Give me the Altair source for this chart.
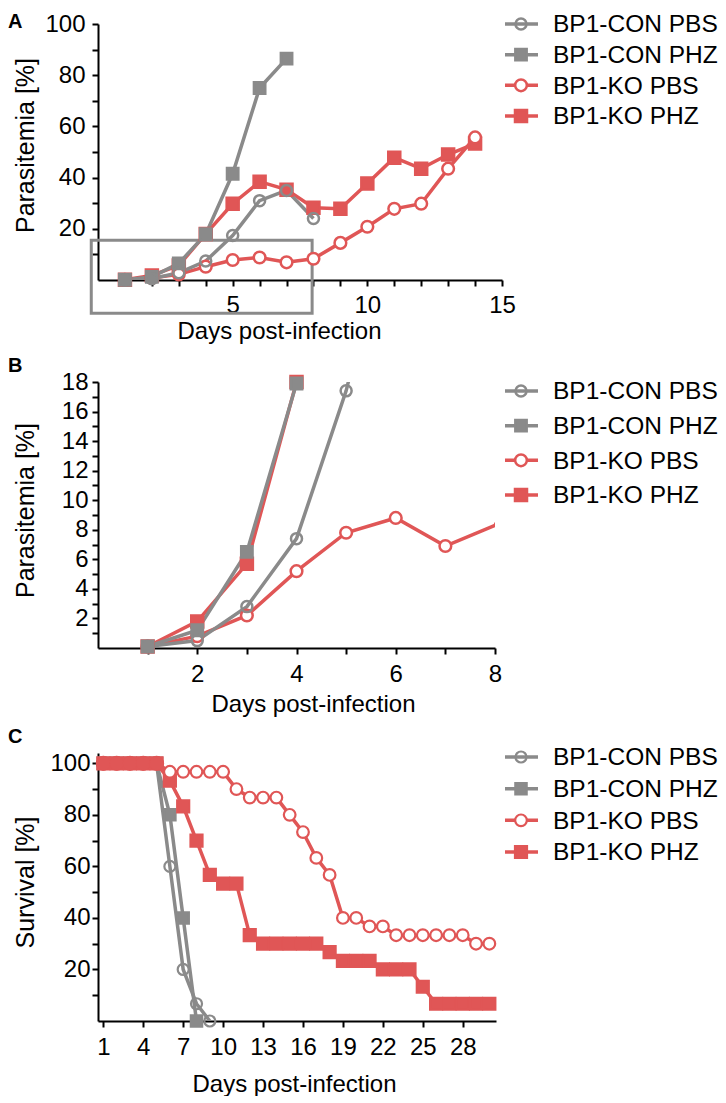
import altair as alt
import pandas as pd

FONT = "Liberation Sans"
GREY = "#8a8a8a"
RED = "#e05656"

series_names = ["BP1-CON PBS", "BP1-CON PHZ", "BP1-KO PBS", "BP1-KO PHZ"]
panel_labels = ["A", "B", "C"]

# Parasitemia (panels A and B)
para_days_con_pbs = [1, 2, 3, 4, 5, 6, 7, 8]
para_con_pbs = [0.1, 0.5, 2.8, 7.4, 17.4, 31.0, 35.0, 24.0]
para_days_con_phz = [1, 2, 3, 4, 5, 6, 7]
para_con_phz = [0.1, 1.2, 6.5, 17.9, 41.5, 75.0, 86.5]
para_days_ko = [1, 2, 3, 4, 5, 6, 7, 8, 9, 10, 11, 12, 13, 14]
para_ko_pbs = [0.1, 0.8, 2.2, 5.2, 7.8, 8.8, 6.9, 8.3, 14.5, 20.8, 27.8, 29.8, 43.5, 55.7]
para_ko_phz = [0.1, 1.8, 5.7, 18.0, 29.8, 38.4, 35.3, 28.2, 27.8, 37.7, 47.8, 43.5, 49.0, 53.3]

# Survival (panel C)
surv_days_con_pbs = [1, 2, 3, 4, 5, 6, 7, 8, 9]
surv_con_pbs = [100, 100, 100, 100, 100, 60, 20, 6.7, 0]
surv_days_con_phz = [1, 2, 3, 4, 5, 6, 7, 8]
surv_con_phz = [100, 100, 100, 100, 100, 80, 40, 0]
surv_days_ko = [1, 2, 3, 4, 5, 6, 7, 8, 9, 10, 11, 12, 13, 14, 15,
                16, 17, 18, 19, 20, 21, 22, 23, 24, 25, 26, 27, 28, 29, 30]
surv_ko_pbs = [100, 100, 100, 100, 100, 96.7, 96.7, 96.7, 96.7, 96.7,
               90, 86.7, 86.7, 86.7, 80, 73.3, 63.3, 56.7, 40, 40,
               36.7, 36.7, 33.3, 33.3, 33.3, 33.3, 33.3, 33.3, 30, 30]
surv_ko_phz = [100, 100, 100, 100, 100, 93.3, 83.3, 70, 56.7, 53.3,
               53.3, 33.3, 30, 30, 30, 30, 30, 26.7, 23.3, 23.3,
               23.3, 20, 20, 20, 13.3, 6.7, 6.7, 6.7, 6.7, 6.7]

# Region of panel A that is enlarged in panel B
zoom_box_days = [-0.25, 7.95]
zoom_box_pct = [-13.0, 15.5]


def frame(parts):
    rows = []
    for name, days, vals in parts:
        for d, v in zip(days, vals):
            rows.append({"series": name, "day": d, "value": v})
    return pd.DataFrame(rows)


para_df = frame([
    ("BP1-KO PHZ", para_days_ko, para_ko_phz),
    ("BP1-KO PBS", para_days_ko, para_ko_pbs),
    ("BP1-CON PHZ", para_days_con_phz, para_con_phz),
    ("BP1-CON PBS", para_days_con_pbs, para_con_pbs),
])
surv_df = frame([
    ("BP1-CON PBS", surv_days_con_pbs, surv_con_pbs),
    ("BP1-CON PHZ", surv_days_con_phz, surv_con_phz),
    ("BP1-KO PHZ", surv_days_ko, surv_ko_phz),
    ("BP1-KO PBS", surv_days_ko, surv_ko_pbs),
])
legend_df = pd.DataFrame({"series": series_names})
box_df = pd.DataFrame({"day": [zoom_box_days[0]], "day2": [zoom_box_days[1]],
                       "value": [zoom_box_pct[0]], "value2": [zoom_box_pct[1]]})

color_scale = alt.Scale(domain=series_names, range=[GREY, GREY, RED, RED])
shape_scale = alt.Scale(domain=series_names, range=["circle", "square", "circle", "square"])
LEG_X = [407, 440, 423, 455]


def make_panel(df, c):
    xs = alt.Scale(domain=c["xdom"], nice=False, zero=False)
    ys = alt.Scale(domain=c["ydom"], nice=False, zero=False)
    x_axis = alt.Axis(values=c["xticks"], labelExpr=c["xlabels"], title="Days post-infection",
                      titleX=c["xtitle_x"], titleY=c["xtitle_y"], titleBaseline="alphabetic",
                      labelPadding=c["xlabpad"], labelFlush=False, labelOverlap=False)
    y_axis = alt.Axis(values=c["yticks"], labelExpr=c["ylabels"], title=c["ytitle"],
                      titleX=-73, titleY=c["ytitle_y"], titleBaseline="middle",
                      titleFontSize=25,
                      labelPadding=c["ylabpad"], labelFlush=False, labelOverlap=False)
    x = alt.X("day:Q", scale=xs, axis=x_axis)
    y = alt.Y("value:Q", scale=ys, axis=y_axis)
    fill_scale = alt.Scale(domain=series_names, range=c["fills"])
    size_scale = alt.Scale(domain=series_names, range=c["sizes"])
    col = alt.Color("series:N", scale=color_scale, legend=None)
    base = alt.Chart(df)
    layers = []
    if c.get("box"):
        layers.append(alt.Chart(box_df).mark_rect(fillOpacity=0, stroke=GREY, strokeWidth=3).encode(
            x=x, x2="day2:Q", y=y, y2="value2:Q"))
    layers.append(base.mark_line(strokeWidth=3.5, clip=True).encode(
        x=x, y=y, color=col, order="day:Q"))
    pts = base.transform_filter(c["pt_filter"]) if c.get("pt_filter") else base
    layers.append(pts.mark_point(opacity=1, strokeWidth=c["sw"]).encode(
        x=x, y=y,
        shape=alt.Shape("series:N", scale=shape_scale, legend=None),
        stroke=alt.Stroke("series:N", scale=color_scale, legend=None),
        fill=alt.Fill("series:N", scale=fill_scale, legend=None),
        size=alt.Size("series:N", scale=size_scale, legend=None)))
    layers.append(base.transform_filter(c["solid_filter"]).mark_point(
        shape="circle", filled=True, opacity=1, size=c["solid_size"],
        fill=c["solid_color"], stroke=c["solid_color"], strokeWidth=1).encode(x=x, y=y))
    layers.append(alt.Chart(pd.DataFrame({"label": [c["letter"]]})).mark_text(
        font="Liberation Sans", fontWeight="bold", fontSize=20, align="left",
        baseline="alphabetic", color="black").encode(
        x=alt.value(-90), y=alt.value(c["letter_y"]), text="label:N"))
    plot = alt.layer(*layers)

    ly = alt.Y("series:N", scale=alt.Scale(type="point", domain=series_names,
                                           range=c["leg_range"], padding=0), axis=None)
    lb = alt.Chart(legend_df)
    legend = alt.layer(
        lb.mark_rule(strokeWidth=3.5).encode(x=alt.value(LEG_X[0]), x2=alt.value(LEG_X[1]),
                                             y=ly, color=col),
        lb.mark_point(opacity=1, strokeWidth=c["sw"]).encode(
            x=alt.value(LEG_X[2]), y=ly,
            shape=alt.Shape("series:N", scale=shape_scale, legend=None),
            stroke=alt.Stroke("series:N", scale=color_scale, legend=None),
            fill=alt.Fill("series:N", scale=fill_scale, legend=None),
            size=alt.Size("series:N", scale=size_scale, legend=None)),
        lb.mark_text(align="left", baseline="top", fontSize=24.5, font=FONT, dy=-10.6,
                     color="black").encode(x=alt.value(LEG_X[3]), y=ly, text="series:N"),
    )
    return alt.layer(plot, legend).resolve_scale(y="independent").properties(
        width=c["W"], height=c["H"])


panel_a = make_panel(para_df, dict(
    W=404, H=256, xdom=[0, 15], ydom=[0, 100],
    xticks=list(range(1, 16)), xlabels="datum.value % 5 === 0 ? datum.label : ''",
    yticks=list(range(10, 101, 10)), ylabels="datum.value % 20 === 0 ? datum.label : ''",
    ytitle="Parasitemia [%]", ytitle_y=121, ylabpad=7,
    xtitle_x=181, xtitle_y=58, xlabpad=7,
    fills=["transparent", GREY, "white", RED], sizes=[121, 144, 121, 144], sw=2.5,
    solid_filter="datum.series === 'BP1-CON PBS' && datum.day === 1", solid_size=160,
    solid_color=GREY, letter=panel_labels[0], letter_y=4,
    leg_range=[0, 92], box=True))

panel_b = make_panel(para_df, dict(
    W=397, H=266, xdom=[0, 8], ydom=[0, 18],
    xticks=list(range(1, 9)), xlabels="datum.value % 2 === 0 ? datum.label : ''",
    yticks=list(range(1, 19)), ylabels="datum.value % 2 === 0 ? datum.label : ''",
    ytitle="Parasitemia [%]", ytitle_y=128, ylabpad=4,
    xtitle_x=215, xtitle_y=63, xlabpad=8,
    fills=["transparent", GREY, "white", RED], sizes=[121, 144, 121, 144], sw=2.5,
    pt_filter="datum.day < 8 && datum.value <= 18",
    solid_filter="datum.series === 'BP1-CON PBS' && datum.day === 1", solid_size=160,
    solid_color=GREY, letter=panel_labels[1], letter_y=-10,
    leg_range=[9, 113]))

panel_c = make_panel(surv_df, dict(
    W=398, H=268, xdom=[0.6, 30.5], ydom=[0, 104],
    xticks=list(range(1, 29, 3)), xlabels="datum.label",
    yticks=list(range(10, 101, 10)), ylabels="datum.value % 20 === 0 ? datum.label : ''",
    ytitle="Survival [%]", ytitle_y=129, ylabpad=2,
    xtitle_x=196, xtitle_y=70, xlabpad=8,
    fills=["transparent", GREY, "transparent", RED], sizes=[169, 144, 169, 144], sw=2.2,
    solid_filter="datum.series === 'BP1-KO PBS' && datum.day <= 5", solid_size=200,
    solid_color=RED, letter=panel_labels[2], letter_y=-10,
    leg_range=[4, 99]))

chart = alt.concat(
    alt.concat(panel_a, panel_b, columns=1, spacing=13, align="none", bounds="full"),
    panel_c, columns=1, spacing=11, align="none", bounds="full",
).properties(padding={"top": 4, "bottom": 0, "left": 0, "right": 0}).configure_view(
    stroke=None
).configure_axis(
    domainColor="black", domainWidth=2, tickColor="black", tickWidth=2, tickSize=6,
    labelFont=FONT, labelFontSize=24, labelColor="black",
    titleFont=FONT, titleFontSize=24, titleFontWeight="normal", titleColor="black",
    grid=False,
)

chart.save("out.html", embed_options={"renderer": "svg", "actions": False})
